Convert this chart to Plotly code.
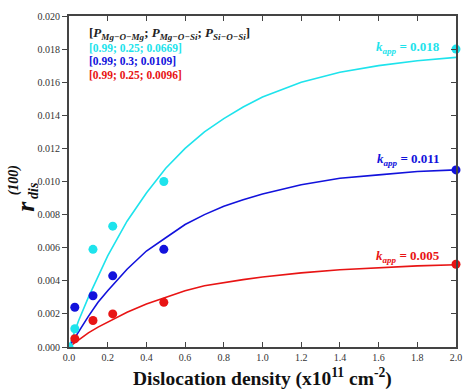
import plotly.graph_objects as go

# measured data points
x_pts = [0.03, 0.124, 0.226, 0.49, 2.0]
cyan_pts = [0.0011, 0.0059, 0.0073, 0.0100, 0.0180]
blue_pts = [0.0024, 0.0031, 0.0043, 0.0059, 0.0107]
red_pts = [0.0005, 0.0016, 0.0020, 0.0027, 0.0050]
cyan_origin_x = [0.0]
cyan_origin_y = [0.0]

# fitted curves
x_fit = [0.0, 0.05, 0.1, 0.15, 0.2, 0.3, 0.4, 0.5, 0.6, 0.7, 0.8, 0.9, 1.0, 1.2, 1.4, 1.6, 1.8, 2.0]
cyan_fit = [0.0, 0.0016, 0.0030, 0.0043, 0.0055, 0.0076, 0.0093, 0.0108, 0.0120, 0.0130, 0.0138, 0.0145, 0.0151, 0.0160, 0.0166, 0.0170, 0.0173, 0.0175]
blue_fit = [0.0, 0.00096, 0.00185, 0.0027, 0.0034, 0.0047, 0.0058, 0.0066, 0.0074, 0.0080, 0.0085, 0.0089, 0.00925, 0.0098, 0.0102, 0.0104, 0.0106, 0.0107]
red_fit = [0.0, 0.00045, 0.00085, 0.0012, 0.0015, 0.0021, 0.0026, 0.0030, 0.0034, 0.0037, 0.0039, 0.00407, 0.00423, 0.00448, 0.00467, 0.0048, 0.0049, 0.00497]

x_ticks = [0.0, 0.2, 0.4, 0.6, 0.8, 1.0, 1.2, 1.4, 1.6, 1.8, 2.0]
y_ticks = [0.000, 0.002, 0.004, 0.006, 0.008, 0.010, 0.012, 0.014, 0.016, 0.018, 0.020]

CYAN = "#1EE3EC"
BLUE = "#1212DC"
RED = "#E81414"
SERIF = "Liberation Serif"

fig = go.Figure()
for yf, c in [(cyan_fit, CYAN), (blue_fit, BLUE), (red_fit, RED)]:
    fig.add_trace(go.Scatter(x=x_fit, y=yf, mode="lines", line=dict(color=c, width=1.6),
                             showlegend=False, hoverinfo="skip"))
for yp, c in [(cyan_pts, CYAN), (blue_pts, BLUE), (red_pts, RED)]:
    fig.add_trace(go.Scatter(x=x_pts, y=yp, mode="markers", marker=dict(color=c, size=9),
                             showlegend=False, cliponaxis=False))
fig.add_trace(go.Scatter(x=cyan_origin_x, y=cyan_origin_y, mode="markers", marker=dict(color=CYAN, size=9),
                         showlegend=False, cliponaxis=True))
# invisible trace on secondary axes (for mirrored inner ticks)
fig.add_trace(go.Scatter(x=[0], y=[0], xaxis="x2", yaxis="y2", mode="markers",
                         marker=dict(opacity=0), showlegend=False, hoverinfo="skip"))

axis_common = dict(showgrid=False, zeroline=False, linecolor="#444", linewidth=2,
                   tickcolor="#444", tickwidth=1.2, ticklen=5,
                   tickfont=dict(family=SERIF, size=10, color="#333"))

fig.update_layout(
    width=472, height=392,
    margin=dict(l=69, r=10, t=11, b=45),
    paper_bgcolor="white", plot_bgcolor="white",
    xaxis=dict(range=[0, 2.0], tickvals=x_ticks, ticktext=[f"{v:.1f}" for v in x_ticks],
               ticks="inside", mirror=True, **axis_common),
    yaxis=dict(range=[0, 0.020], tickvals=y_ticks, ticktext=[f"{v:.3f}" for v in y_ticks],
               ticks="outside", mirror=True, **axis_common),
    xaxis2=dict(range=[0, 2.0], tickvals=x_ticks, overlaying="x", side="top", ticks="inside",
                showticklabels=False, showgrid=False, zeroline=False, showline=False,
                tickcolor="#444", tickwidth=1.2, ticklen=5),
    yaxis2=dict(range=[0, 0.020], tickvals=y_ticks, overlaying="y", side="right", ticks="inside",
                showticklabels=False, showgrid=False, zeroline=False, showline=False,
                tickcolor="#444", tickwidth=1.2, ticklen=5),
)

def px(xp):
    return (xp - 69) / 393

def py(yp):
    return (347 - yp) / 336

ann = []
ann.append(dict(x=px(87), y=py(29), xref="paper", yref="paper", xanchor="left", yanchor="middle",
                text="<b>[<i>P</i><sub><i>Mg−O−Mg</i></sub>; <i>P</i><sub><i>Mg−O−Si</i></sub>; <i>P</i><sub><i>Si−O−Si</i></sub>]</b>",
                showarrow=False, font=dict(family=SERIF, size=13, color="#222")))
for t, c, yy in [("[0.99; 0.25; 0.0669]", CYAN, 43), ("[0.99; 0.3; 0.0109]", BLUE, 57),
                 ("[0.99; 0.25; 0.0096]", RED, 71)]:
    ann.append(dict(x=px(87), y=py(yy), xref="paper", yref="paper", xanchor="left", yanchor="middle",
                    text=f"<b>{t}</b>", showarrow=False, font=dict(family=SERIF, size=11.5, color=c)))
for t, c, yy in [("0.018", CYAN, 43), ("0.011", BLUE, 157), ("0.005", RED, 255)]:
    ann.append(dict(x=px(448), y=py(yy), xref="paper", yref="paper", xanchor="right", yanchor="middle",
                    text=f"<b><i>k</i><sub><i>app</i></sub> = {t}</b>", showarrow=False,
                    font=dict(family=SERIF, size=13, color=c)))
# x axis title
ann.append(dict(x=0.5, y=py(378), xref="paper", yref="paper", xanchor="center", yanchor="middle",
                text="<b>Dislocation density (x10<sup>11</sup> cm<sup>-2</sup>)</b>", showarrow=False,
                font=dict(family=SERIF, size=19.5, color="#111")))
# y axis title pieces
ann.append(dict(x=px(24), y=py(204), xref="paper", yref="paper", xanchor="center", yanchor="middle",
                text="<b><i>r</i></b>", textangle=-90, showarrow=False,
                font=dict(family=SERIF, size=26, color="#111")))
ann.append(dict(x=px(13), y=py(178), xref="paper", yref="paper", xanchor="center", yanchor="middle",
                text="<b><i>(100)</i></b>", textangle=-90, showarrow=False,
                font=dict(family=SERIF, size=14, color="#111")))
ann.append(dict(x=px(33), y=py(188), xref="paper", yref="paper", xanchor="center", yanchor="middle",
                text="<b><i>dis</i></b>", textangle=-90, showarrow=False,
                font=dict(family=SERIF, size=14, color="#111")))
fig.update_layout(annotations=ann)

fig.write_html("out.html")
